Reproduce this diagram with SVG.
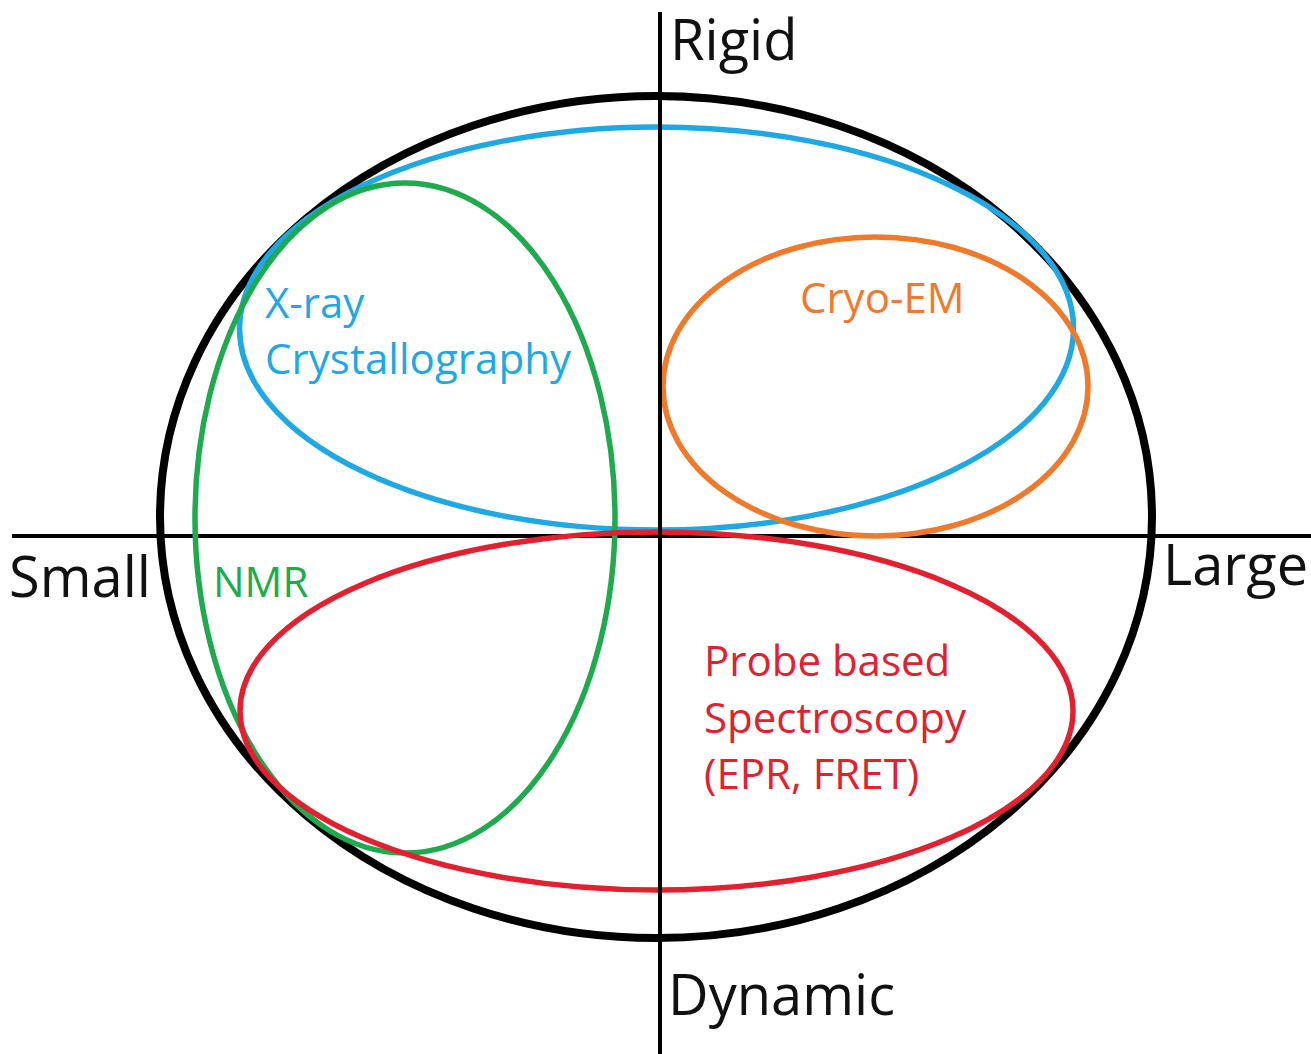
<svg xmlns="http://www.w3.org/2000/svg" width="1311" height="1054" viewBox="0 0 1311 1054">
  <style>
    .ring { fill: none; }
    .lbl { font-family: "Open Sans", "Liberation Sans", sans-serif; font-size: 42px; }
    .axlbl { font-family: "Open Sans", "Liberation Sans", sans-serif; font-size: 56px; fill: #111; }
    .axis { stroke: #000; stroke-width: 4; fill: none; }
  </style>
  <rect width="1311" height="1054" fill="#fff"/>
  <g id="outer">
    <ellipse class="ring" cx="656" cy="517" rx="496" ry="421" stroke="#000" stroke-width="8"/>
  </g>
  <g id="connectors">
    <line class="axis" x1="12" y1="536" x2="1311" y2="536"/>
  </g>
  <g id="xray">
    <ellipse class="ring" cx="656.5" cy="328.5" rx="417" ry="201.5" stroke="#1ea8e4" stroke-width="5.5"/>
    <text class="lbl" fill="#1ea8e4" x="265" y="318">X-ray</text>
    <text class="lbl" fill="#1ea8e4" x="265" y="374" textLength="306">Crystallography</text>
  </g>
  <g id="cryoem">
    <ellipse class="ring" cx="875.5" cy="386.5" rx="212.5" ry="149.5" stroke="#f07a2b" stroke-width="5.5"/>
    <text class="lbl" fill="#f07a2b" x="800" y="313">Cryo-EM</text>
  </g>
  <g id="nmr">
    <ellipse class="ring" cx="405" cy="518" rx="210" ry="335" stroke="#1faa4e" stroke-width="5.5"/>
    <text class="lbl" fill="#1faa4e" x="213" y="597">NMR</text>
  </g>
  <g id="probe">
    <ellipse class="ring" cx="656.5" cy="711" rx="416.5" ry="179" stroke="#e3202f" stroke-width="5.5"/>
    <text class="lbl" fill="#e3202f" x="704" y="676">Probe based</text>
    <text class="lbl" fill="#e3202f" x="704" y="733">Spectroscopy</text>
    <text class="lbl" fill="#e3202f" x="704" y="789">(EPR, FRET)</text>
  </g>
  <g id="vaxis">
    <line class="axis" x1="660" y1="12" x2="660" y2="1054"/>
  </g>
  <g id="labels">
    <text class="axlbl" x="670" y="60">Rigid</text>
    <text class="axlbl" x="9" y="597">Small</text>
    <text class="axlbl" x="1163" y="585">Large</text>
    <text class="axlbl" x="668" y="1015">Dynamic</text>
  </g>
</svg>
